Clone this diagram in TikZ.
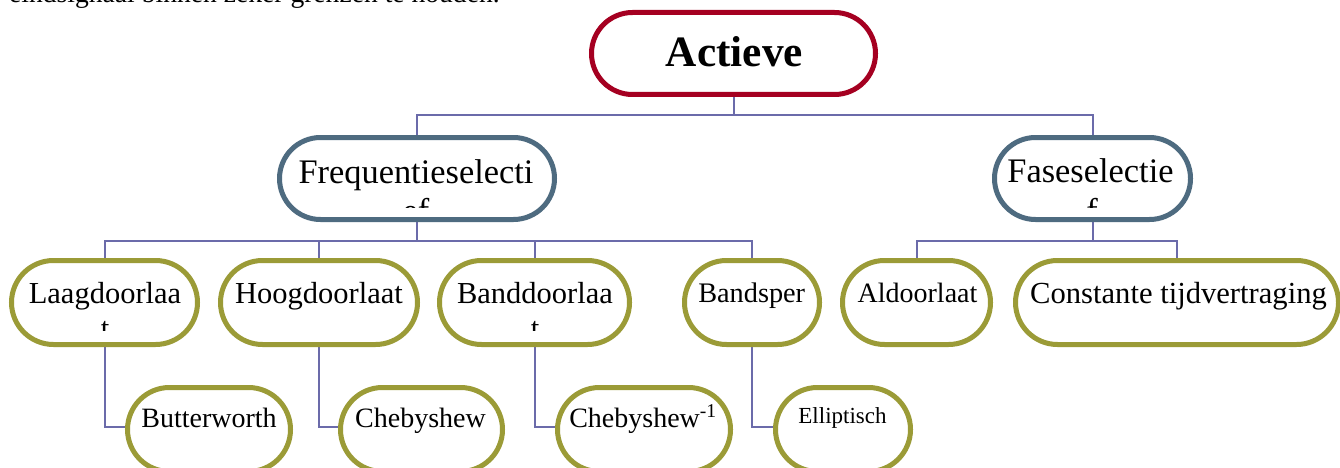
\documentclass[tikz,border=0pt]{standalone}
\usepackage{fontspec}
\setmainfont{Liberation Serif}
\usetikzlibrary{shapes.misc,backgrounds}

\definecolor{topred}{HTML}{A50021}
\definecolor{midblue}{HTML}{4E6B80}
\definecolor{leafolive}{HTML}{9B9B37}
\definecolor{wire}{HTML}{6B6BAA}

\newcommand\tsize[1]{\fontsize{#1}{#1}\selectfont}

\tikzset{
  pill/.style={rounded rectangle, draw, line width=5pt, fill=white,
    inner sep=0pt, minimum height=82pt},
  toppill/.style={pill, draw=topred},
  midpill/.style={pill, draw=midblue},
  leafpill/.style={pill, draw=leafolive, minimum height=84pt},
  txt/.style={anchor=base, inner sep=0pt, text=black},
  wirestyle/.style={draw=wire, line width=2pt},
}

\begin{document}
\begin{tikzpicture}[x=1pt,y=-1pt]
\useasboundingbox (0,0) rectangle (1340,468);
\clip (0,0) rectangle (1340,468);

% running text above the chart
\node[txt, anchor=base west] (lead) at (9,3)
  {\tsize{27.6}eindsignaal binnen zeker grenzen te houden.};

% boxes
\node[toppill, minimum width=284pt] (act) at (733.5,53.5) {};
\node[midpill, minimum width=275pt] (freq) at (417,178.5) {};
\node[midpill, minimum width=196pt] (fase) at (1092.5,178.5) {};

\node[leafpill, minimum width=186pt] (laag) at (104.5,302.5) {};
\node[leafpill, minimum width=197pt] (hoog) at (319,302.5) {};
\node[leafpill, minimum width=190pt] (band) at (534.5,302.5) {};
\node[leafpill, minimum width=135pt] (sper) at (752,302.5) {};
\node[leafpill, minimum width=148pt] (alle) at (916.5,302.5) {};
\node[leafpill, minimum width=323pt] (tijd) at (1177,302.5) {};

\node[leafpill, minimum width=163pt] (butter) at (209,429.5) {};
\node[leafpill, minimum width=162pt] (cheb) at (421.5,429.5) {};
\node[leafpill, minimum width=173pt] (icheb) at (644,429.5) {};
\node[leafpill, minimum width=135pt] (ellip) at (843,429.5) {};

% bus levels
\coordinate (busA) at (0,115.5);
\coordinate (busB) at (0,240.5);

% white page and connectors, behind the boxes
\begin{scope}[on background layer]
  \fill[white] (0,0) rectangle (1340,468);
  \draw[wirestyle] (act.south) -- (act.south |- busA) -| (freq.north);
  \draw[wirestyle] (act.south |- busA) -| (fase.north);
  \draw[wirestyle] (freq.south) -- (freq.south |- busB) -| (laag.north);
  \draw[wirestyle] (freq.south |- busB) -| (hoog.north);
  \draw[wirestyle] (freq.south |- busB) -| (band.north);
  \draw[wirestyle] (freq.south |- busB) -| (sper.north);
  \draw[wirestyle] (fase.south) -- (fase.south |- busB) -| (alle.north);
  \draw[wirestyle] (fase.south |- busB) -| (tijd.north);
  \draw[wirestyle] (laag.south) |- ([yshift=2.5pt]butter.west);
  \draw[wirestyle] (hoog.south) |- ([yshift=2.5pt]cheb.west);
  \draw[wirestyle] (band.south) |- ([yshift=2.5pt]icheb.west);
  \draw[wirestyle] (sper.south) |- ([yshift=2.5pt]ellip.west);
\end{scope}

% labels
\node[txt] (actT) at (734.5,67) {\tsize{43.3}\bfseries Actieve};
\node[txt] (freqT) at (416,183) {\tsize{34.4}Frequentieselecti};
\node[txt] (faseT) at (1090.5,182) {\tsize{34.4}Faseselectie};
\node[txt] (laagT) at (105,303) {\tsize{30.5}Laagdoorlaa};
\node[txt] (hoogT) at (319,303) {\tsize{30.5}Hoogdoorlaat};
\node[txt] (bandT) at (535,303) {\tsize{30.5}Banddoorlaa};
\node[txt] (sperT) at (751.7,302) {\tsize{28.3}Bandsper};
\node[txt] (alleT) at (917.5,302) {\tsize{28}Aldoorlaat};
\node[txt] (tijdT) at (1178.5,303) {\tsize{30.6}Constante tijdvertraging};
\node[txt] (butterT) at (209,427) {\tsize{28}Butterworth};
\node[txt] (chebT) at (420.5,427) {\tsize{28}Chebyshew};
\node[txt] (ichebT) at (643,427) {\tsize{28}Chebyshew\textsuperscript{-1}};
\node[txt] (ellipT) at (842.5,423) {\tsize{23}Elliptisch};

% wrapped second lines, cut off by the text area
\begin{scope}
  \clip (300,190) rectangle (540,207.5);
  \node[txt] (freqT2) at (416,222.6) {\tsize{34.4}ef};
\end{scope}
\begin{scope}
  \clip (1000,190) rectangle (1180,207.5);
  \node[txt] (faseT2) at (1092,222) {\tsize{34.4}f};
\end{scope}
\begin{scope}
  \clip (20,310) rectangle (190,330);
  \node[txt] (laagT2) at (105,338) {\tsize{30.5}t};
\end{scope}
\begin{scope}
  \clip (450,310) rectangle (620,330);
  \node[txt] (bandT2) at (535,338) {\tsize{30.5}t};
\end{scope}
\end{tikzpicture}
\end{document}
